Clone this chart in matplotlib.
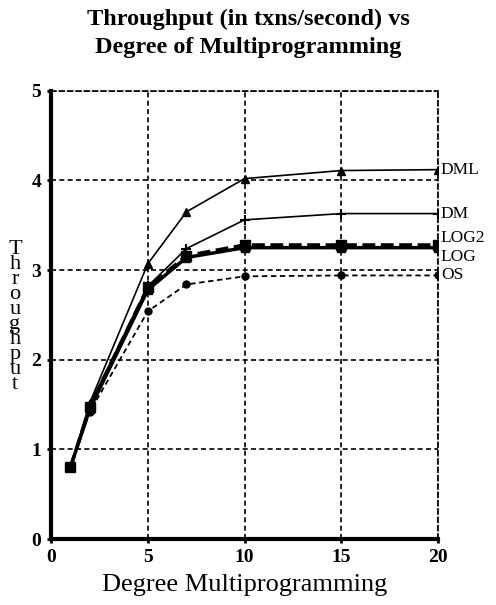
import numpy as np
import matplotlib
matplotlib.use("Agg")
import matplotlib.pyplot as plt

plt.rcParams['font.family'] = ['Liberation Serif', 'DejaVu Serif']

x = [1, 2, 5, 7, 10, 15, 20]
dml = [0.80, 1.52, 3.07, 3.65, 4.02, 4.11, 4.12]
dm = [0.80, 1.50, 2.82, 3.24, 3.56, 3.63, 3.63]
log2 = [0.80, 1.47, 2.81, 3.16, 3.28, 3.28, 3.28]
log = [0.80, 1.45, 2.78, 3.14, 3.25, 3.25, 3.25]
os_ = [0.80, 1.42, 2.54, 2.84, 2.93, 2.94, 2.94]
names = ['DML', 'DM', 'LOG2', 'LOG', 'OS']

fig = plt.figure(figsize=(4.96, 6.05), dpi=100)
ax = fig.add_axes([0.103, 0.109, 0.780, 0.741])

ax.plot(x, dml, color='black', lw=1.2, marker='^', ms=6)
ax.plot(x, dm, color='black', lw=1.2, marker='+', ms=7, mew=1.5)
ax.plot(x, log2, color='black', lw=2.5, ls='--', marker='s', ms=7)
ax.plot(x, log, color='black', lw=2.5, marker='s', ms=6)
ax.plot(x, os_, color='black', lw=1.3, ls=(0, (3, 2)), marker='o', ms=5)

# series names at right end
label_y = [dml[-1], dm[-1], log2[-1] + 0.08, log[-1] - 0.1, os_[-1]]
for name, yy in zip(names, label_y):
    ax.text(20.15, yy, name, fontsize=12.5, va='center', ha='left')

ax.set_xlim(0, 20)
ax.set_ylim(0, 5)
ax.set_xticks([0, 5, 10, 15, 20])
ax.set_yticks([0, 1, 2, 3, 4, 5])
ax.grid(True, color='black', ls=(0, (3, 2)), lw=1.2)
for s in ['top', 'right']:
    ax.spines[s].set_linestyle((0, (3, 2)))
    ax.spines[s].set_linewidth(1.2)
for s in ['left', 'bottom']:
    ax.spines[s].set_linewidth(3)
ax.tick_params(length=3, width=2, labelsize=14, pad=4)
for t in ax.get_xticklabels() + ax.get_yticklabels():
    t.set_fontweight('bold')

ax.set_xlabel('Degree Multiprogramming', fontsize=19, labelpad=6)
fig.text(0.030, 0.476, '\n'.join('Throughput'), fontsize=16, ha='center', va='center',
         linespacing=0.72)
fig.suptitle('Throughput (in txns/second) vs\nDegree of Multiprogramming',
             fontsize=17.5, fontweight='bold', y=0.985, linespacing=1.4)

fig.savefig('out.png', dpi=100)
